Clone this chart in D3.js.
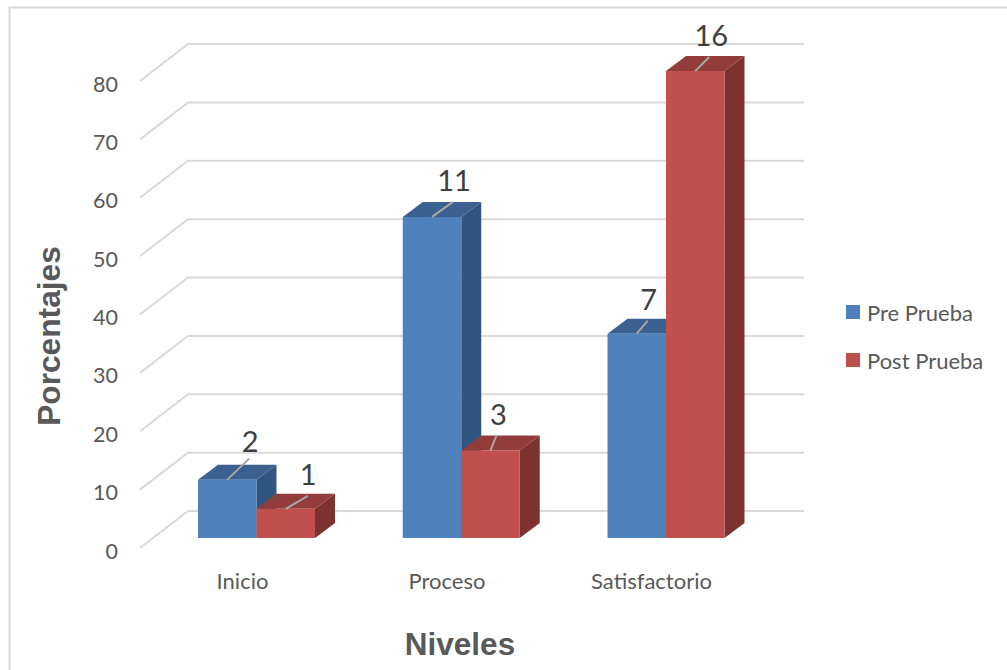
<!DOCTYPE html>
<html>
<head>
<meta charset="utf-8">
<script src="https://cdn.jsdelivr.net/npm/d3@7"></script>
<style>
html,body{margin:0;padding:0;background:#fff}
svg{display:block}
.body-text{font-family:Lato,"Open Sans",sans-serif}
.title-text{font-family:"Liberation Sans",Arial,sans-serif;font-weight:bold}
</style>
</head>
<body>
<svg id="chart" width="1007" height="670"></svg>
<script>
// Survey results by level: student counts per group, plotted as percentages of the group.
const levels = ["Inicio", "Proceso", "Satisfactorio"];
const seriesNames = ["Pre Prueba", "Post Prueba"];
const preCounts = [2, 11, 7];
const postCounts = [1, 3, 16];
const groupSize = 20;
const yTicks = [0, 10, 20, 30, 40, 50, 60, 70, 80];
const axisTitleX = "Niveles";
const axisTitleY = "Porcentajes";

const colors = {
  pre: {front: "#4f81bd", top: "#3a6190", side: "#31557f"},
  post: {front: "#c0504d", top: "#923d3b", side: "#7d3230"}
};

const svg = d3.select("#chart");
svg.append("rect").attr("x", 9.5).attr("y", 7.5).attr("width", 1100).attr("height", 700)
  .attr("fill", "#fff").attr("stroke", "#d9d9d9").attr("stroke-width", 2);

// Front plane of the bars; the back wall is offset by the oblique floor depth.
const y = d3.scaleLinear().domain([0, 80]).range([538, 71]);
const wall = {x0: 188, x1: 804, dy: -27};
const floorFront = {dx: -48, dy: 37};
const barDepth = {dx: 20, dy: -15};

const x = d3.scalePoint().domain(levels).range([256.5, 666]);
const barW = 58.5;

const grid = svg.append("g").attr("fill", "none").attr("stroke", "#d9d9d9").attr("stroke-width", 2);
yTicks.forEach(t => {
  const yb = y(t) + wall.dy;
  grid.append("path").attr("d", d3.line()([
    [wall.x0 + floorFront.dx, yb + floorFront.dy],
    [wall.x0, yb],
    [wall.x1, yb]
  ]));
});

svg.append("g").attr("class", "body-text").selectAll("text").data(yTicks).join("text")
  .attr("x", 118).attr("text-anchor", "end")
  .attr("y", d => y(d) + wall.dy + floorFront.dy + 10.5)
  .attr("font-size", 21.5).attr("fill", "#595959").text(d => d);

// A bar is three faces: front, top and right side.
function drawBar(g, x0, value, c) {
  const yt = y(value), yb = y(0), x1 = x0 + barW, dx = barDepth.dx, dy = barDepth.dy;
  g.append("path").attr("fill", c.side).attr("d", d3.line()([[x1, yb], [x1 + dx, yb + dy], [x1 + dx, yt + dy], [x1, yt]]) + "Z");
  g.append("path").attr("fill", c.top).attr("d", d3.line()([[x0, yt], [x0 + dx, yt + dy], [x1 + dx, yt + dy], [x1, yt]]) + "Z");
  g.append("rect").attr("fill", c.front).attr("x", x0).attr("y", yt).attr("width", barW).attr("height", yb - yt);
}

// Count label above the top face, joined to the bar by a short grey leader.
function drawLabel(x0, value, count, place) {
  const yt = y(value), cx = x0 + barW / 2;
  svg.append("path").attr("fill", "none").attr("stroke", "#a6a6a6").attr("stroke-width", 2)
    .attr("d", d3.line()([[cx, yt], [cx + place.lead[0], yt + place.lead[1]]]));
  svg.append("text").attr("class", "body-text").attr("x", cx + place.text[0]).attr("y", yt + place.text[1])
    .attr("text-anchor", "middle").attr("font-size", 29).attr("fill", "#404040").text(count);
}

// Per-label leader and text offsets, as placed by hand to clear neighbouring bars.
const prePlacement = [
  {lead: [22, -21], text: [23, -28]},
  {lead: [21, -15], text: [22, -26]},
  {lead: [11, -13], text: [12, -24]}
];
const postPlacement = [
  {lead: [22, -13], text: [22.5, -24]},
  {lead: [6, -15], text: [8, -25]},
  {lead: [14, -14], text: [16, -25]}
];

const bars = svg.append("g");
levels.forEach((l, i) => {
  const px = x(l);
  drawBar(bars, px - barW, preCounts[i] / groupSize * 100, colors.pre);
  drawBar(bars, px, postCounts[i] / groupSize * 100, colors.post);
});
levels.forEach((l, i) => {
  const px = x(l);
  drawLabel(px - barW, preCounts[i] / groupSize * 100, preCounts[i], prePlacement[i]);
  drawLabel(px, postCounts[i] / groupSize * 100, postCounts[i], postPlacement[i]);
});

svg.append("g").attr("class", "body-text").selectAll("text").data(levels).join("text")
  .attr("x", (d, i) => [242.5, 447, 651.5][i]).attr("y", 589).attr("text-anchor", "middle")
  .attr("font-size", 22).attr("fill", "#595959").text(d => d);

seriesNames.forEach((n, i) => {
  const ly = 305 + i * 48;
  svg.append("rect").attr("x", 846).attr("y", ly).attr("width", 14).attr("height", 14)
    .attr("fill", i ? colors.post.front : colors.pre.front);
  svg.append("text").attr("class", "body-text").attr("x", 867).attr("y", ly + 16)
    .attr("font-size", 22).attr("fill", "#595959").text(n);
});

svg.append("text").attr("class", "title-text").attr("x", 460).attr("y", 655).attr("text-anchor", "middle")
  .attr("font-size", 31.5).attr("fill", "#595959").text(axisTitleX);
svg.append("text").attr("class", "title-text").attr("transform", "translate(60,336) rotate(-90)").attr("text-anchor", "middle")
  .attr("font-size", 31.7).attr("fill", "#595959").text(axisTitleY);
</script>
</body>
</html>
